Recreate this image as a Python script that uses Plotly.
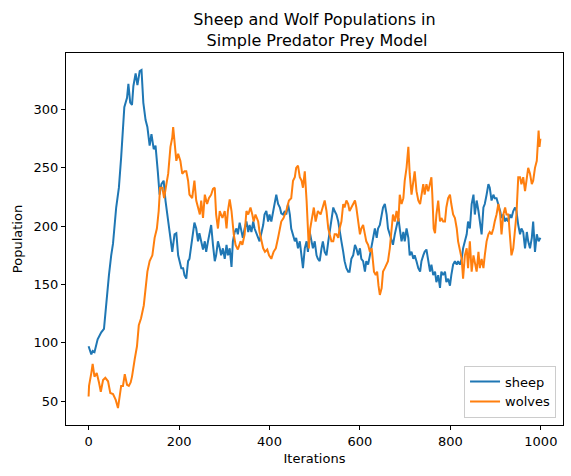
import plotly.graph_objects as go

sheep_iter = [0, 3, 6, 9, 13, 20, 28, 34, 39, 45, 50, 54, 61, 67, 72, 76, 79, 85, 88, 92, 96, 99, 104, 108, 113, 117, 121, 126, 130, 135, 139, 144, 148, 153, 157, 161, 166, 170, 175, 180, 185, 190, 194, 198, 201, 205, 209, 212, 216, 220,
              223, 227, 231, 234, 238, 242, 245, 249, 253, 257, 260, 264, 268, 271, 275, 279, 282, 286, 290, 293, 297, 301, 305, 308, 312, 316, 319, 323, 327, 330, 334, 338, 341, 345, 349, 353, 356, 360, 364, 367, 371, 375, 378, 382, 386, 389, 393, 397, 400, 404, 408, 412, 415, 419, 423, 426, 430, 434, 437, 441, 445, 448, 452, 456, 459, 463, 467, 471, 474, 478, 482, 485,
              489, 493, 496, 500, 504, 507, 511, 515, 518, 522, 526, 530, 533, 537, 541, 544, 548, 552, 555, 559, 563, 566, 570, 574, 577, 581, 585, 589, 592, 596, 600, 603, 607, 611, 614, 618, 622, 626, 629, 633, 637, 640, 644, 648, 651, 655, 659, 662, 666, 670, 673, 677, 681, 685, 688, 692, 696, 699, 703, 707, 710, 714, 718, 721, 725, 729,
              733, 736, 740, 743, 747, 751, 755, 758, 762, 766, 769, 773, 777, 780, 784, 788, 791, 795, 799, 802, 806, 810, 814, 817, 821, 825, 828, 832, 836, 839, 843, 847, 851, 854, 858, 862, 865, 869, 873, 876, 880, 884, 887, 891, 895, 898, 902, 906, 910, 913, 917, 921, 924, 928, 932, 935, 939, 943, 946, 950, 954, 957, 961, 965, 969, 972, 976, 980, 983, 987, 991, 995, 999]
sheep_vals = [97, 94, 90, 93, 92, 103, 109, 112, 135, 158, 175, 185, 216, 233, 259, 284, 302, 310, 322, 306, 304, 320, 331, 321, 333, 334, 306, 291, 285, 269, 279, 266, 269, 247, 227, 236, 239, 222, 207, 193, 178, 193, 194, 175, 170, 164, 164, 158, 155, 170,
              172, 184, 193, 203, 198, 187, 194, 187, 180, 187, 178, 187, 195, 201, 184, 170, 175, 187, 181, 175, 181, 172, 184, 175, 181, 165, 187, 195, 198, 193, 203, 197, 190, 198, 204, 195, 201, 195, 204, 198, 193, 190, 187, 194, 201, 210, 213, 204, 210, 204, 213, 222, 227, 219, 216, 211, 210, 213, 210, 219, 210, 198, 193, 187, 190, 181, 187, 175, 164, 181, 187, 178,
              195, 187, 181, 187, 175, 172, 170, 181, 187, 178, 175, 187, 195, 204, 216, 213, 210, 204, 198, 187, 178, 170, 164, 161, 161, 172, 175, 184, 181, 175, 181, 172, 170, 161, 170, 167, 175, 184, 190, 198, 190, 198, 201, 210, 216, 219, 210, 198, 193, 187, 184, 193, 201, 207, 198, 187, 195, 187, 198, 190, 175, 178, 172, 175, 170, 164,
              161, 170, 175, 178, 180, 172, 161, 167, 158, 161, 152, 158, 147, 161, 158, 161, 152, 155, 149, 158, 167, 170, 167, 170, 167, 172, 181, 187, 193, 204, 198, 219, 227, 210, 222, 213, 204, 193, 216, 219, 227, 236, 233, 222, 227, 224, 224, 219, 213, 207, 210, 204, 207, 204, 210, 207, 213, 216, 213, 201, 193, 198, 195, 181, 195, 187, 181, 190, 204, 178, 193, 187, 190]

wolves_iter = [0, 1, 6, 9, 13, 18, 23, 27, 32, 37, 43, 48, 54, 60, 65, 68, 72, 76, 80, 85, 89, 93, 96, 102, 107, 111, 116, 122, 126, 130, 135, 141, 146, 151, 155, 158, 163, 167, 172, 176, 181, 185, 187, 191, 194, 198, 203, 207, 212, 216, 220,
               223, 229, 234, 238, 242, 246, 249, 253, 257, 262, 266, 271, 275, 279, 282, 286, 290, 296, 301, 305, 308, 312, 316, 321, 325, 330, 336, 340, 345, 349, 353, 358, 362, 365, 369, 375, 378, 382, 386, 390, 395, 399, 404, 409, 414, 419, 423, 426, 431, 437, 443, 448, 452, 456, 459, 463, 467, 471, 474, 478, 482, 485,
               487, 490, 495, 498, 502, 507, 513, 517, 522, 526, 530, 533, 537, 541, 544, 548, 552, 555, 559, 563, 566, 570, 574, 577, 581, 585, 589, 592, 596, 600, 603, 607, 611, 614, 618, 622, 626, 628, 631, 635, 638, 641, 644, 648, 651, 655, 659, 662, 666, 670, 673, 677, 681, 685, 688, 692, 696, 699, 703, 707, 710, 714, 718, 721, 725, 729,
               733, 736, 740, 743, 747, 751, 755, 758, 760, 763, 766, 769, 773, 777, 780, 784, 788, 791, 795, 799, 802, 806, 810, 814, 817, 821, 825, 828, 832, 836, 839, 843, 847, 851, 854, 858, 862, 865, 869, 873, 876, 880, 884, 887, 891, 895, 898, 902, 906, 910, 913, 917, 921, 924, 928, 932, 935, 939, 943, 946, 950, 954, 957, 961, 965, 969, 972, 976, 980, 983, 987, 991, 993, 995, 997, 999]
wolves_vals = [54, 63, 74, 82, 71, 74, 66, 58, 68, 70, 67, 57, 56, 51, 44, 51, 63, 63, 73, 64, 63, 66, 71, 86, 97, 115, 121, 132, 147, 161, 170, 175, 190, 198, 213, 233, 233, 224, 236, 245, 268, 276, 285, 268, 256, 262, 256, 245, 247, 247, 239,
               227, 224, 239, 222, 216, 210, 222, 207, 227, 219, 224, 227, 232, 233, 210, 198, 213, 207, 213, 198, 213, 223, 213, 193, 184, 180, 187, 184, 193, 213, 210, 216, 210, 204, 210, 204, 195, 187, 181, 178, 180, 175, 172, 178, 181, 190, 198, 204, 207, 213, 222, 224, 239, 242, 250, 252, 242, 239, 233, 247, 222, 198,
               181, 198, 210, 216, 204, 213, 210, 216, 222, 213, 198, 193, 187, 187, 193, 193, 190, 198, 204, 219, 216, 222, 219, 213, 216, 219, 222, 216, 204, 193, 198, 201, 193, 187, 184, 178, 181, 170, 161, 158, 161, 149, 141, 147, 161, 164, 167, 170, 181, 198, 210, 204, 213, 204, 227, 219, 224, 239, 250, 268, 245, 227, 239, 247, 230, 222,
               219, 227, 236, 227, 236, 230, 239, 242, 227, 198, 194, 210, 222, 204, 207, 204, 204, 216, 224, 227, 219, 210, 207, 198, 187, 178, 172, 155, 175, 181, 164, 187, 161, 175, 170, 161, 178, 164, 172, 164, 175, 187, 193, 195, 193, 198, 204, 210, 219, 210, 193, 210, 216, 210, 210, 187, 175, 181, 195, 210, 242, 242, 236, 242, 230, 242, 250, 245, 236, 239, 250, 256, 268, 282, 268, 275]

x_ticks = [0, 200, 400, 600, 800, 1000]
y_ticks = [50, 100, 150, 200, 250, 300]

FONT = "DejaVu Sans"

fig = go.Figure()
fig.add_trace(go.Scatter(x=sheep_iter, y=sheep_vals, mode="lines", name="sheep",
                         line=dict(color="#1f77b4", width=2)))
fig.add_trace(go.Scatter(x=wolves_iter, y=wolves_vals, mode="lines", name="wolves",
                         line=dict(color="#ff7f0e", width=2)))

axis_common = dict(showline=True, linecolor="black", linewidth=1, mirror=True,
                   ticks="outside", ticklen=4, tickcolor="black", tickwidth=1,
                   showgrid=False, zeroline=False,
                   tickfont=dict(family=FONT, size=13, color="black"))

fig.update_layout(
    width=571, height=476,
    margin=dict(l=66, r=8, t=53, b=51),
    paper_bgcolor="white", plot_bgcolor="white",
    font=dict(family=FONT, size=13, color="black"),
    title=dict(text="Sheep and Wolf Populations in<br> Simple Predator Prey Model",
               x=(66 + 563) / 2 / 571, xref="container", xanchor="center",
               y=1 - 25 / 476, yref="container", yanchor="top",
               font=dict(family=FONT, size=16, color="black")),
    xaxis=dict(range=[-49.95, 1048.95], tickvals=x_ticks,
               title=dict(text="Iterations", standoff=6, font=dict(family=FONT, size=13)),
               **axis_common),
    yaxis=dict(range=[29.5, 348.5], tickvals=y_ticks,
               title=dict(text="Population", standoff=8, font=dict(family=FONT, size=13)),
               **axis_common),
    legend=dict(x=0.986, y=0.02, xanchor="right", yanchor="bottom",
                bgcolor="rgba(255,255,255,0.8)", bordercolor="#cccccc", borderwidth=1,
                font=dict(family=FONT, size=13, color="black")),
    showlegend=True,
)

fig.write_html("out.html")
